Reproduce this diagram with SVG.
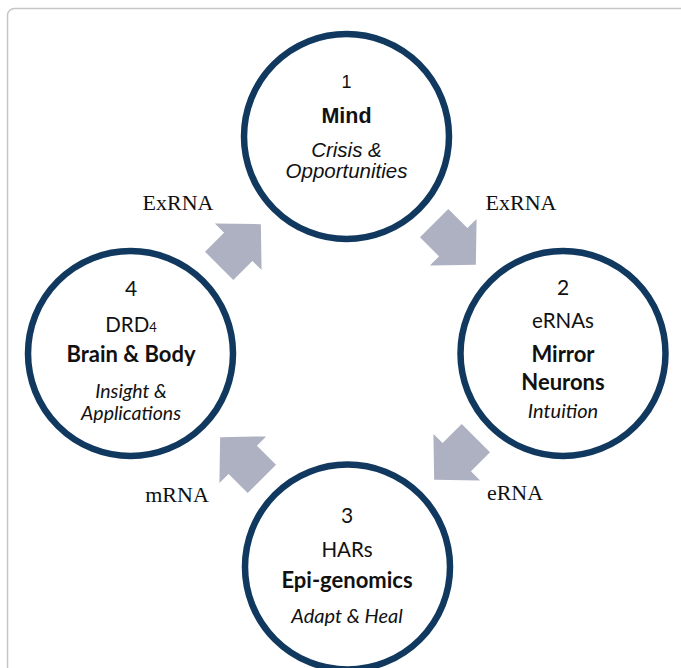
<svg xmlns="http://www.w3.org/2000/svg" xmlns:xlink="http://www.w3.org/1999/xlink" width="681" height="668" viewBox="0 0 681 668">
<style>
.ring{fill:#fff;stroke:#11395f;stroke-width:6.5}
.arr{fill:#adb1c2}
.lbl{font-family:"Liberation Serif","Times New Roman",serif;font-size:22px;fill:#111;text-anchor:middle}
.a{font-family:"Liberation Sans",Arial,sans-serif;fill:#111;text-anchor:middle}
.c{font-family:Lato,"Open Sans",sans-serif;fill:#111;text-anchor:middle}
.b{font-weight:bold}
.i{font-style:italic}
</style>
<defs>
<path id="arrow" d="M-29.5,-20 L-2.5,-20 L-2.5,-33 L29.5,0 L-2.5,33 L-2.5,20 L-29.5,20 Z"/>
</defs>
<rect x="7.5" y="8.5" width="720" height="720" rx="7" fill="#fff" stroke="#c6c6c6" stroke-width="1.5"/>
<g id="connectors">
<use xlink:href="#arrow" class="arr" transform="translate(240,245) rotate(-45)"/>
<use xlink:href="#arrow" class="arr" transform="translate(455,244) rotate(45)"/>
<use xlink:href="#arrow" class="arr" transform="translate(455,459) rotate(135)"/>
<use xlink:href="#arrow" class="arr" transform="translate(241,458) rotate(-135)"/>
<text class="lbl" x="178" y="210">ExRNA</text>
<text class="lbl" x="521" y="210">ExRNA</text>
<text class="lbl" x="515" y="500">eRNA</text>
<text class="lbl" x="177" y="502">mRNA</text>
</g>
<g id="node1">
<circle class="ring" cx="346.5" cy="136.5" r="102.5"/>
<text class="a" x="346.5" y="88" font-size="18">1</text>
<text class="a b" x="346.5" y="123" font-size="21.5">Mind</text>
<text class="a i" x="346.5" y="157" font-size="20.5">Crisis &amp;</text>
<text class="a i" x="346.5" y="178" font-size="20.5">Opportunities</text>
</g>
<g id="node2">
<circle class="ring" cx="563" cy="353.5" r="102.5"/>
<text class="c" x="563" y="295" font-size="21">2</text>
<text class="c" x="563" y="328" font-size="20.5">eRNAs</text>
<text class="c b" x="563" y="362" font-size="22">Mirror</text>
<text class="c b" x="563" y="390" font-size="22">Neurons</text>
<text class="c i" x="563" y="418" font-size="20">Intuition</text>
</g>
<g id="node3">
<circle class="ring" cx="347.5" cy="567" r="102.5"/>
<text class="c" x="347" y="523" font-size="21">3</text>
<text class="c" x="347" y="557" font-size="20.5">HARs</text>
<text class="c b" x="347" y="588" font-size="22">Epi-genomics</text>
<text class="c i" x="347" y="623" font-size="20">Adapt &amp; Heal</text>
</g>
<g id="node4">
<circle class="ring" cx="130.5" cy="353.5" r="102.5"/>
<text class="c" x="131" y="296" font-size="21">4</text>
<text class="c" x="131" y="332" font-size="20.5">DRD<tspan font-size="13">4</tspan></text>
<text class="c b" x="131" y="362" font-size="22">Brain &amp; Body</text>
<text class="c i" x="131" y="398" font-size="19.5">Insight &amp;</text>
<text class="c i" x="131" y="420" font-size="19.5">Applications</text>
</g>
</svg>
